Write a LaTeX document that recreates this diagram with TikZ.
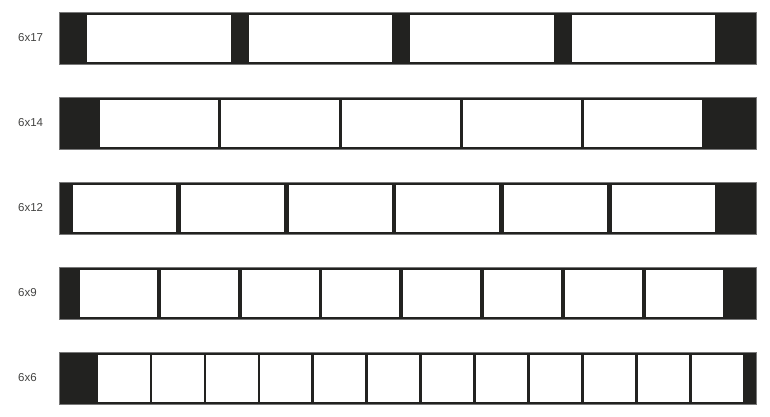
\documentclass[tikz,border=0pt]{standalone}
\usepackage{fontspec}
\setmainfont{Liberation Sans}
\definecolor{ink}{RGB}{34,34,32}
\definecolor{rim}{RGB}{120,120,120}

\begin{document}
\begin{tikzpicture}[x=1pt, y=-1pt,
  strip/.style = {fill=ink, draw=rim, line width=0.6pt},
  cell/.style  = {fill=white},
  lab/.style   = {anchor=west, inner sep=0pt, font=\fontsize{11.5}{13}\selectfont, text=ink!85}]
\useasboundingbox (0,0) rectangle (770,417);
% top y / label / first cell x / pitch / cell width / number of cells
\foreach \y/\lab/\x/\p/\w/\n in {12.3/6x17/87.3/161.5/143.3/4,
                                 97.3/6x14/99.5/121/118.6/5,
                                 182.3/6x12/72.7/107.9/103/6,
                                 267.3/6x9/80/80.8/77/8,
                                 352.3/6x6/98.3/53.95/51.3/12}{
  \draw[strip] (59.3,\y) rectangle (756,\y+52);
  \foreach \i in {1,...,\n}
    \fill[cell] ({\x+(\i-1)*\p},\y+2.6) rectangle ++(\w,47.2);
  \node[lab] (lab\n) at (18,\y+25.5) {\lab};
}
\end{tikzpicture}
\end{document}
